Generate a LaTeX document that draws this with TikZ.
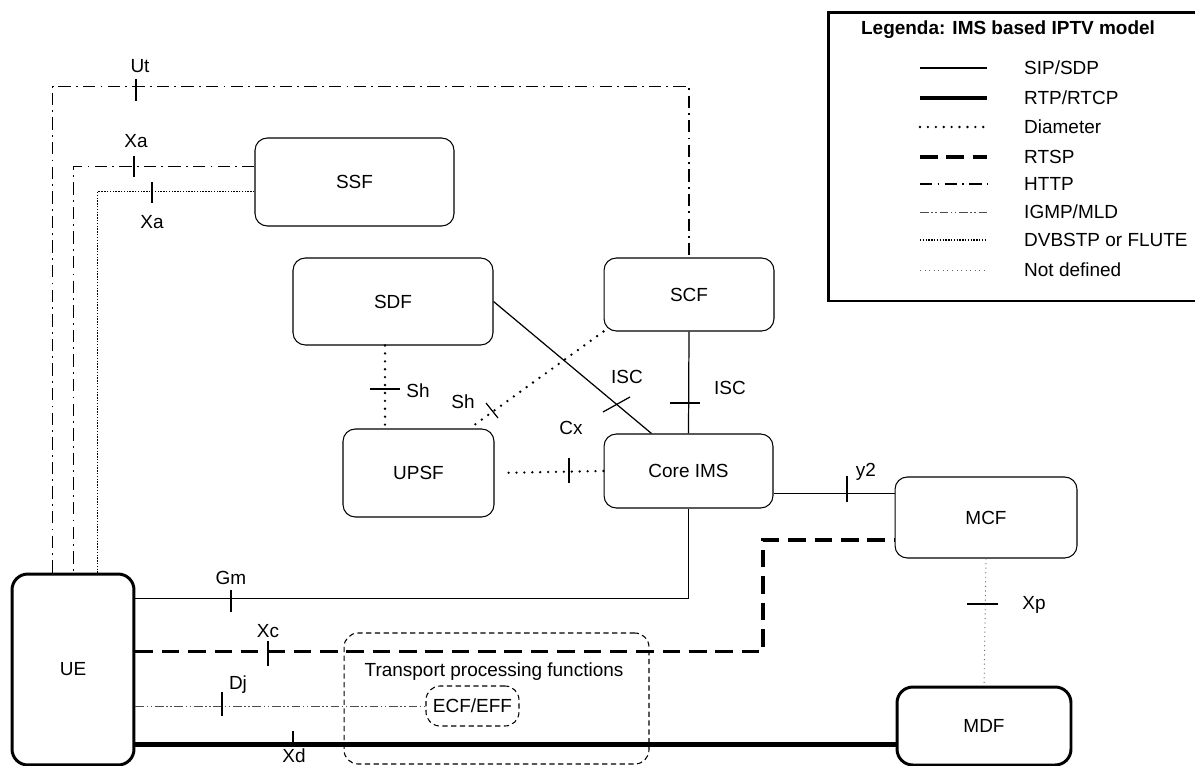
\documentclass[tikz,border=0pt]{standalone}
\usepackage{fontspec}
\setmainfont{Liberation Sans}
\usetikzlibrary{calc}

\tikzset{
  box/.style={draw, rounded corners=7pt, line width=0.6pt, inner sep=0pt},
  fatbox/.style={box, line width=1.7pt, rounded corners=9pt},
  tpf/.style={draw, rounded corners=8pt, line width=0.6pt, dash pattern=on 3pt off 2pt, inner sep=0pt},
  sip/.style={line width=0.7pt},
  rtp/.style={line width=2.4pt},
  diam/.style={line width=1.5pt, dash pattern=on 0pt off 4.5pt, line cap=round},
  rtsp/.style={line width=1.8pt, dash pattern=on 10pt off 5pt},
  http/.style={line width=0.8pt, dash pattern=on 7pt off 3pt on 1pt off 3pt},
  igmp/.style={line width=0.5pt, black!70, dash pattern=on 5pt off 1.5pt on 0.8pt off 1.5pt on 0.8pt off 1.5pt},
  dvb/.style={line width=0.7pt, dash pattern=on 0.8pt off 0.8pt},
  undef/.style={line width=0.5pt, black!60, dash pattern=on 0.6pt off 2pt},
}

\begin{document}
\begin{tikzpicture}[x=0.02cm, y=-0.02cm, font=\fontsize{10.8}{12}\selectfont]
\useasboundingbox (0,0) rectangle (1195,766);
%
\node[tpf, minimum width=6.1cm, minimum height=2.62cm] (TPF) at (496.5,698.5) {};
\node (TPFl) at (494,672) {Transport processing functions};
\node[tpf, minimum width=1.86cm, minimum height=0.8cm] (ECF) at (472.5,706) {ECF/EFF};
%
\node[fatbox, minimum width=2.44cm, minimum height=3.82cm] (UE) at (73,669.5) {UE};
\node[box, minimum width=3.98cm, minimum height=1.76cm] (SSF) at (354.5,182) {SSF};
\node[box, minimum width=4cm, minimum height=1.74cm] (SDF) at (393,301.5) {SDF};
\node[box, minimum width=3.4cm, minimum height=1.46cm] (SCF) at (689,294.5) {SCF};
\node[box, minimum width=3.02cm, minimum height=1.76cm] (UPSF) at (418.5,473) {UPSF};
\node[box, minimum width=3.38cm, minimum height=1.48cm] (Core) at (688.5,471) {Core IMS};
\node[box, minimum width=3.64cm, minimum height=1.62cm] (MCF) at (986,517.5) {MCF};
\node[fatbox, minimum width=3.48cm, minimum height=1.56cm] (MDF) at (984,726) {MDF};
%
\draw[http] ($(UE.north west)+(42,0)$) -- ++(0,-486) -| (SCF.north);
\draw[http] ($(SSF.north west)+(0,29)$) -| ($(UE.north west)+(63,0)$);
\draw[dvb] ($(SSF.north west)+(0,54)$) -| ($(UE.north west)+(87,0)$);
%
\draw[sip] (SDF.east) -- ($(Core.north west)+(48,0)$);
\draw[sip] (SCF.south) -- (Core.north);
\draw[diam] ($(SDF.south)+(-8,0)$) coordinate (sh) -- (UPSF.north -| sh);
\draw[diam] (SCF.south west) -- ($(UPSF.north west)+(127,0)$);
\draw[diam, shorten <=8pt] (UPSF.east) -- (Core.west);
\draw[sip] ($(Core.south east)+(0,-15)$) coordinate (y2a) -- (MCF.west |- y2a);
\draw[undef] (MCF.south) -- (MDF.north);
%
\draw[sip] (Core.south) |- ($(UE.north east)+(0,26)$);
\coordinate (rtspbend) at (763,540);
\draw[rtsp] ($(UE.north east)+(0,79)$) -| (rtspbend) -- (MCF.west |- rtspbend);
\draw[igmp] (UE.east |- ECF.west) -- (ECF.west);
\draw[rtp] ($(MDF.south west)+(0,-22)$) coordinate (xd) -- (UE.east |- xd);
%
\draw[sip] (136,79) -- (136,101);
\draw[sip] (134,156) -- (134,177);
\draw[sip] (152,182) -- (152,203);
\draw[sip] (231,590) -- (231,612);
\draw[sip] (268,641) -- (268,666);
\draw[sip] (222,692) -- (222,716);
\draw[sip] (293,731) -- (293,743);
\draw[sip] (370,389) -- (400,389);
\draw[sip] (486,403) -- (498,418);
\draw[sip] (569,458) -- (569,483);
\draw[sip] (603,412) -- (630,397);
\draw[sip] (670,403) -- (700,403);
\draw[sip] (847,476) -- (847,502);
\draw[sip] (967,604) -- (998,604);
%
\node (lUt) at (140,66) {Ut};
\node (lXa) at (136,141) {Xa};
\node (lXb) at (152,222) {Xa};
\node (lGm) at (231,578) {Gm};
\node (lXc) at (268,631) {Xc};
\node (lDj) at (238,685) {Dj};
\node (lXd) at (294,756) {Xd};
\node (lSh) at (418,391) {Sh};
\node (lShb) at (463,402) {Sh};
\node (lCx) at (571,428) {Cx};
\node (lISC) at (627,377) {ISC};
\node (lISCb) at (730,388) {ISC};
\node (ly2) at (866,472) {y2};
\node (lXp) at (1034,605) {Xp};
%
\draw[line width=1.7pt] (828,13) rectangle (1210,301);
\node[font=\fontsize{10.8}{12}\selectfont\bfseries] (lgTitle) at (1008,30) {Legenda: IMS based IPTV model};
\node[anchor=west] (lgSip) at (1018,68) {SIP/SDP};
\node[anchor=west] (lgRtp) at (1018,98) {RTP/RTCP};
\node[anchor=west] (lgDiam) at (1018,127) {Diameter};
\node[anchor=west] (lgRtsp) at (1018,157) {RTSP};
\node[anchor=west] (lgHttp) at (1018,184) {HTTP};
\node[anchor=west] (lgIgmp) at (1018,212) {IGMP/MLD};
\node[anchor=west] (lgDvb) at (1018,240) {DVBSTP or FLUTE};
\node[anchor=west] (lgUndef) at (1018,270) {Not defined};
\draw[sip] ($(lgSip.west)+(-98,0)$) -- ++(67,0);
\draw[rtp] ($(lgRtp.west)+(-98,0)$) -- ++(67,0);
\draw[diam] ($(lgDiam.west)+(-98,0)$) -- ++(67,0);
\draw[rtsp] ($(lgRtsp.west)+(-98,0)$) -- ++(67,0);
\draw[http] ($(lgHttp.west)+(-98,0)$) -- ++(67,0);
\draw[igmp] ($(lgIgmp.west)+(-98,0)$) -- ++(67,0);
\draw[dvb] ($(lgDvb.west)+(-98,0)$) -- ++(67,0);
\draw[undef] ($(lgUndef.west)+(-98,0)$) -- ++(67,0);
%
\end{tikzpicture}
\end{document}
